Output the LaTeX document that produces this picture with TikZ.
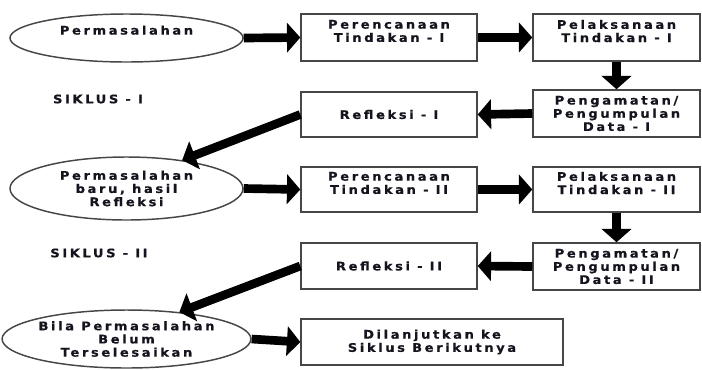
\documentclass[tikz,border=0pt]{standalone}
\usepackage{fontspec}
\setmainfont{DejaVu Sans Bold}[LetterSpace=22, FakeStretch=1.1, FakeBold=0.6]
\usetikzlibrary{shapes.geometric,arrows.meta}

\tikzset{every picture/.style={line width=0.75pt}}
\tikzset{
  tulisan/.style={font=\fontsize{8.9}{9.9}\selectfont, align=center, text={rgb,255:red,20;green,20;blue,30}},
  kotak/.style={tulisan, draw={rgb,255:red,70;green,70;blue,70}, line width=1.1pt, inner sep=0pt, minimum width=132pt},
  oval/.style={tulisan, ellipse, draw={rgb,255:red,70;green,70;blue,70}, line width=1.1pt, inner sep=0pt, minimum width=174.75pt},
  panah/.style={line width=6.5pt, -{Triangle[length=10pt,width=22pt]}},
}

\begin{document}
\begin{tikzpicture}[x=0.75pt,y=0.75pt,yscale=-1,xscale=1]
	\useasboundingbox (0,0) rectangle (702,369);

	%Shape: Ellipse, Siklus I
	\node [oval, minimum height=36pt] (perm1) at (126.5,38) {Permasalahan\\[2pt]};
	%Shape: Rectangle
	\node [kotak, minimum height=35.25pt] (renc1) at (389,37.5) {Perencanaan\\Tindakan - I\\~};
	%Shape: Rectangle
	\node [kotak, minimum width=125.25pt, minimum height=35.25pt] (pel1) at (616.5,37.5) {Pelaksanaan\\Tindakan - I\\~};
	%Shape: Rectangle
	\node [kotak, minimum width=125.25pt, minimum height=35.25pt] (peng1) at (616.5,113.5) {Pengamatan/\\Pengumpulan\\Data - I};
	%Shape: Rectangle
	\node [kotak, minimum height=33.75pt] (refl1) at (389,114.5) {Refleksi - I};
	% Text Node
	\node [tulisan] (sik1) at (98,99) {SIKLUS - I};

	%Shape: Ellipse, Siklus II
	\node [oval, minimum height=47.25pt] (perm2) at (126.5,188.5) {Permasalahan\\baru, hasil\\Refleksi};
	%Shape: Rectangle
	\node [kotak, minimum height=33.75pt] (renc2) at (389,189.5) {Perencanaan\\Tindakan - II\\~};
	%Shape: Rectangle
	\node [kotak, minimum width=125.25pt, minimum height=33.75pt] (pel2) at (616.5,189.5) {Pelaksanaan\\Tindakan - II\\~};
	%Shape: Rectangle
	\node [kotak, minimum width=125.25pt, minimum height=35.25pt] (peng2) at (616.5,266.5) {Pengamatan/\\Pengumpulan\\Data - II};
	%Shape: Rectangle
	\node [kotak, minimum height=34.5pt] (refl2) at (389,266) {Refleksi - II};
	% Text Node
	\node [tulisan] (sik2) at (99,253) {SIKLUS - II};

	%Shape: Ellipse
	\node [oval, minimum height=43.5pt] (perm3) at (126.5,339) {Bila Permasalahan\\Belum\\Terselesaikan};
	%Shape: Rectangle
	\node [kotak, minimum width=196.5pt, minimum height=34.5pt] (lanjut) at (432,342) {Dilanjutkan ke\\Siklus Berikutnya};

	%Straight Lines
	\draw [panah] (perm1.east) -- (renc1.west);
	\draw [panah] (renc1.east) -- (pel1.west);
	\draw [panah] (pel1.south) -- (peng1.north);
	\draw [panah] (peng1.west) -- (refl1.east);
	\draw [panah] (refl1.west) -- (perm2.27);
	\draw [panah] (perm2.east) -- (renc2.west);
	\draw [panah] (renc2.east) -- (pel2.west);
	\draw [panah] (pel2.south) -- (peng2.north);
	\draw [panah] (peng2.west) -- (refl2.east);
	\draw [panah] (refl2.west) -- (perm3.27);
	\draw [panah] (perm3.east) -- (lanjut.west);

\end{tikzpicture}
\end{document}
